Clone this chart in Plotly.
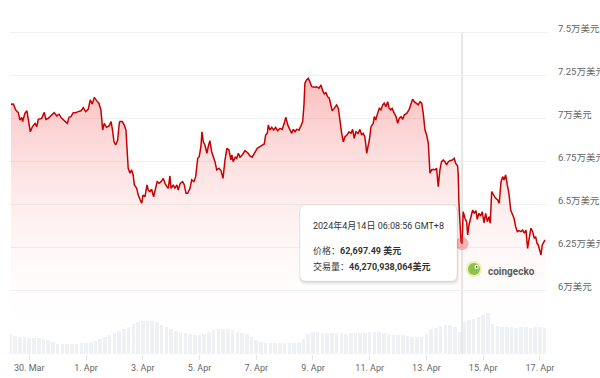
import pandas as pd
import plotly.graph_objects as go

# ---------------- data ----------------
base_time = pd.Timestamp("2024-03-30 00:00")   # local time (GMT+8)

price_hours = [
    -15.5, -13.5, -11.5, -9.3, -7.9, -6.4, -5.6, -3.7, -2.0, -0.9,
    0.9, 2.6, 4.9, 6.3, 7.6, 10.5, 12.7, 14.1, 16.1, 18.9,
    21.1, 23.2, 25.2, 27.4, 30.2, 32.2, 33.6, 35.3, 37.2, 39.2,
    41.4, 43.8, 45.7, 47.7, 49.9, 51.6, 53.3, 55.0, 57.0, 58.9,
    60.6, 62.1, 63.4, 65.4, 67.5, 69.2, 70.2, 71.7, 73.1, 74.8,
    76.1, 76.7, 78.7, 80.4, 81.8, 82.9, 83.7, 85.2, 86.6, 87.9,
    88.9, 90.9, 92.2, 93.9, 95.1, 96.2, 97.9, 99.6, 100.7, 102.1,
    103.5, 105.2, 106.9, 108.2, 109.8, 111.5, 113.4, 114.8, 116.5, 117.6,
    119.0, 119.9, 121.8, 123.2, 124.9, 126.0, 127.7, 129.7, 131.2, 132.6,
    134.0, 136.0, 137.4, 139.3, 140.8, 142.5, 143.8, 145.2, 146.1, 147.2,
    148.6, 150.3, 151.4, 152.8, 154.3, 155.9, 157.1, 158.6, 160.5, 162.2,
    163.9, 165.6, 167.2, 168.9, 170.6, 171.4, 172.5, 174.3, 175.5, 176.9,
    178.3, 180.2, 182.5, 184.8, 186.7, 188.6, 190.9, 192.9, 195.1, 197.2,
    198.8, 200.0, 201.4, 202.2, 203.6, 205.1, 206.8, 208.4, 210.1, 212.1,
    214.0, 215.7, 217.1, 218.7, 220.6, 222.0, 223.4, 224.8, 226.2, 228.2,
    229.8, 231.3, 232.4, 233.2, 234.6, 236.0, 237.4, 239.0, 241.2, 243.2,
    245.1, 246.8, 248.2, 249.6, 251.0, 252.4, 253.8, 255.2, 256.3, 258.0,
    260.0, 261.5, 262.9, 264.3, 265.7, 267.1, 268.8, 270.5, 272.2, 273.6,
    274.9, 276.4, 278.3, 279.7, 281.2, 282.5, 283.9, 285.5, 286.8, 287.7,
    289.1, 291.0, 291.9, 293.1, 294.7, 296.1, 297.5, 299.0, 300.3, 301.7,
    303.2, 304.5, 305.9, 307.0, 308.8, 310.3, 311.7, 313.0, 314.5, 315.9,
    317.2, 319.3, 321.2, 322.9, 324.3, 325.7, 327.1, 329.1, 330.6, 332.0,
    333.3, 334.8, 336.2, 337.6, 339.0, 340.4, 341.8, 343.2, 344.6, 346.0,
    347.4, 348.8, 350.2, 351.7, 353.1, 354.5, 355.9, 357.9, 359.5, 360.7,
    362.4, 362.9, 363.5, 364.3, 365.2, 366.149,
    367.1, 368.6, 370.0, 370.9, 372.0, 373.7, 375.1, 376.5, 377.9, 379.0,
    380.4, 381.9, 383.2, 384.7, 386.1, 387.5, 388.9, 390.0, 391.2, 392.9,
    394.6, 396.3, 397.6, 399.1, 400.5, 401.6, 403.0, 404.4, 405.8, 407.3,
    408.6, 410.1, 411.5, 412.9, 414.3, 416.0, 417.4, 418.8, 420.2, 421.6,
    422.7, 424.4, 425.9, 427.2, 428.4, 429.5, 430.6, 431.8, 432.9, 434.0,
    435.2, 436.3,
]

prices = [
    70800, 70810, 70470, 70310, 69880, 70040, 69790, 70270, 70420, 69980,
    69200, 69490, 69690, 69490, 69920, 69980, 70330, 69920, 69980, 70170,
    70310, 70120, 70220, 69980, 69790, 69690, 70040, 70080, 70310, 70310,
    70370, 70420, 70600, 70370, 70510, 71050, 70810, 71200, 71010, 70860,
    70470, 69300, 69690, 69460, 69540, 69790, 69400, 68620, 68430, 68720,
    69690, 69790, 69790, 69590, 69300, 68140, 67080, 66790, 66980, 66690,
    66110, 65910, 65520, 65230, 65040, 65520, 65420, 66110, 65810, 65720,
    65860, 65420, 66010, 66300, 66200, 66300, 66490, 66200, 66010, 65910,
    66630, 65910, 66110, 65910, 66110, 65810, 66200, 66300, 66110, 65620,
    65620, 65910, 66400, 66300, 66590, 67660, 67750, 68330, 69200, 68620,
    68430, 67950, 68330, 68680, 68040, 67750, 67460, 66980, 67080, 66940,
    66490, 67560, 68240, 68140, 67560, 67850, 67460, 67720, 67660, 67950,
    67720, 67850, 68100, 67980, 67790, 67720, 68040, 68240, 68330, 68430,
    68490, 69010, 69110, 69590, 69300, 69460, 69300, 69460, 69260, 69400,
    69340, 69690, 70040, 69590, 69300, 69110, 69340, 69200, 69340, 69300,
    69540, 69790, 70760, 72020, 72210, 72310, 72110, 71820, 71790, 71820,
    71730, 71920, 71590, 71400, 71470, 71240, 71150, 70660, 70420, 70560,
    70760, 70560, 69690, 69110, 68620, 68910, 69010, 69200, 69110, 69340,
    68820, 69200, 69110, 69340, 69010, 69110, 68910, 67950, 68430, 68720,
    69490, 69690, 70080, 69880, 70270, 70560, 70470, 70760, 70860, 70660,
    70950, 70560, 70470, 70560, 70270, 70080, 69690, 69980, 70080, 69920,
    70170, 70270, 70470, 70760, 71090, 70950, 70860, 70760, 70950, 70860,
    70270, 69300, 69010, 68530, 66790, 66980, 67020, 66980, 67080, 66010,
    66980, 67460, 67560, 67460, 67270, 67460, 67520, 67560, 67660, 67380,
    67210, 66690, 65040, 63390, 62810, 62697.49,
    64550, 64170, 63970, 63200, 63780, 64260, 64650, 64460, 64610, 64110,
    64460, 64300, 64550, 63910, 64460, 63970, 64260, 63880, 65720, 65520,
    65330, 65230, 65040, 66300, 66590, 66400, 66690, 66110, 65620, 64650,
    64460, 64170, 63680, 63390, 63450, 63390, 63490, 63300, 63490, 62420,
    62910, 63590, 63390, 63010, 63100, 62720, 62620, 62230, 62040, 62620,
    62810, 62910,
]

# 24h trading volume (billions of USD), one reading every 4 hours from -16 h
volume_bn = [
    34, 31, 29, 29, 27, 27, 27, 26, 24, 20,
    17, 17, 17, 17, 17, 18, 19, 20, 22, 26,
    29, 32, 36, 39, 43, 46, 51, 54, 56, 56,
    56, 54, 49, 46, 43, 39, 37, 36, 34, 32,
    32, 34, 37, 41, 43, 43, 43, 41, 37, 36,
    34, 29, 24, 20, 19, 19, 19, 19, 19, 19,
    19, 20, 26, 34, 37, 37, 36, 36, 36, 36,
    36, 34, 36, 36, 36, 36, 37, 37, 37, 36,
    34, 32, 32, 32, 31, 29, 29, 29, 34, 43,
    44, 48, 49, 49, 46, 37, 54, 58, 60, 63,
    66, 70, 51, 48, 46, 46, 46, 44, 46, 46,
    44, 46, 46, 44,
]
volume_first_hour = -16
volume_step_hours = 4

x_tick_dates = ["2024-03-30", "2024-04-01", "2024-04-03", "2024-04-05", "2024-04-07",
                "2024-04-09", "2024-04-11", "2024-04-13", "2024-04-15", "2024-04-17"]
x_tick_labels = ["30. Mar", "1. Apr", "3. Apr", "5. Apr", "7. Apr",
                 "9. Apr", "11. Apr", "13. Apr", "15. Apr", "17. Apr"]

y_tick_values = [60000, 62500, 65000, 67500, 70000, 72500, 75000]
y_tick_labels = ["6万美元", "6.25万美元", "6.5万美元", "6.75万美元", "7万美元", "7.25万美元", "7.5万美元"]

hover_time = "2024-04-14 06:08:56"
hover_price = 62697.49
hover_text_time = "2024年4月14日 06:08:56 GMT+8"
hover_text_price = "62,697.49 美元"
hover_text_volume = "46,270,938,064美元"

# ---------------- build ----------------
times = [base_time + pd.Timedelta(hours=h) for h in price_hours]
vol_times = [base_time + pd.Timedelta(hours=volume_first_hour + volume_step_hours * i)
             for i in range(len(volume_bn))]

FONT = "Roboto, 'Noto Sans CJK SC', sans-serif"

W, H = 600, 378
ML, MR, MT, MB = 10, 53, 20, 24
PW, PH = W - ML - MR, H - MT - MB


def px_x(x):
    return (x - ML) / PW


def px_y(y):
    return (H - MB - y) / PH


def rrect(x0, y0, x1, y1, r):
    pts = [
        ("M", [(x0 + r, y0)]), ("L", [(x1 - r, y0)]), ("Q", [(x1, y0), (x1, y0 + r)]),
        ("L", [(x1, y1 - r)]), ("Q", [(x1, y1), (x1 - r, y1)]), ("L", [(x0 + r, y1)]),
        ("Q", [(x0, y1), (x0, y1 - r)]), ("L", [(x0, y0 + r)]), ("Q", [(x0, y0), (x0 + r, y0)]),
    ]
    s = ""
    for cmd, ps in pts:
        s += cmd + " " + " ".join(f"{px_x(a):.5f},{px_y(b):.5f}" for a, b in ps) + " "
    return s + "Z"


fig = go.Figure()

fig.add_trace(go.Bar(
    x=vol_times, y=volume_bn, yaxis="y",
    width=3.0 * 3600 * 1000,
    marker=dict(color="rgba(226,230,237,0.55)", line=dict(width=0)),
    hoverinfo="skip", showlegend=False,
))

fig.add_trace(go.Scatter(
    x=times, y=prices, yaxis="y2", mode="lines",
    line=dict(color="#c80000", width=1.5),
    fill="tozeroy",
    fillgradient=dict(type="vertical", start=57000, stop=72400,
                      colorscale=[[0, "rgba(255,255,255,0)"], [1, "rgba(242,70,70,0.36)"]]),
    hoverinfo="skip", showlegend=False,
))

fig.add_trace(go.Scatter(
    x=[pd.Timestamp(hover_time)], y=[hover_price], yaxis="y2", mode="markers",
    marker=dict(size=13, color="rgba(232,80,80,0.4)"),
    hoverinfo="skip", showlegend=False,
))

shapes = [
    dict(type="line", xref="x", yref="paper", x0=hover_time, x1=hover_time,
         y0=0, y1=px_y(32), line=dict(color="#cfcfcf", width=1), layer="below"),
    # tooltip shadow + box
    dict(type="path", xref="paper", yref="paper", path=rrect(299, 206, 459, 285, 7),
         fillcolor="rgba(0,0,0,0.045)", line=dict(width=0)),
    dict(type="path", xref="paper", yref="paper", path=rrect(300, 206, 458, 283, 6),
         fillcolor="rgba(0,0,0,0.07)", line=dict(width=0)),
    dict(type="path", xref="paper", yref="paper", path=rrect(300, 205, 457, 281, 6),
         fillcolor="#ffffff", line=dict(color="rgba(0,0,0,0.06)", width=1)),
    # coingecko logo
    dict(type="circle", xref="paper", yref="paper", x0=px_x(466), x1=px_x(482),
         y0=px_y(277), y1=px_y(261), fillcolor="#f6ecae", line=dict(width=0)),
    dict(type="circle", xref="paper", yref="paper", x0=px_x(468), x1=px_x(480),
         y0=px_y(275), y1=px_y(263), fillcolor="#8bc34a", line=dict(width=0)),
    dict(type="circle", xref="paper", yref="paper", x0=px_x(474.5), x1=px_x(478.7),
         y0=px_y(269), y1=px_y(264.8), fillcolor="#ffffff", line=dict(width=0)),
    dict(type="circle", xref="paper", yref="paper", x0=px_x(475.9), x1=px_x(477.5),
         y0=px_y(267.7), y1=px_y(266.1), fillcolor="#333333", line=dict(width=0)),
]

annotations = [
    dict(xref="paper", yref="paper", x=px_x(311), y=px_y(225), xanchor="left", yanchor="middle",
         text=hover_text_time, showarrow=False, font=dict(size=9, color="#333333", family=FONT)),
    dict(xref="paper", yref="paper", x=px_x(311), y=px_y(251), xanchor="left", yanchor="middle",
         text="价格：<b>" + hover_text_price + "</b>", showarrow=False,
         font=dict(size=9, color="#333333", family=FONT)),
    dict(xref="paper", yref="paper", x=px_x(311), y=px_y(266), xanchor="left", yanchor="middle",
         text="交易量：<b>" + hover_text_volume + "</b>", showarrow=False,
         font=dict(size=9, color="#333333", family=FONT)),
    dict(xref="paper", yref="paper", x=px_x(486), y=px_y(271), xanchor="left", yanchor="middle",
         text="<b>coingecko</b>", showarrow=False,
         font=dict(size=10, color="#5a5a5a", family=FONT)),
]

fig.update_layout(
    width=W, height=H,
    margin=dict(l=ML, r=MR, t=MT, b=MB, pad=0, autoexpand=False),
    paper_bgcolor="#ffffff", plot_bgcolor="#ffffff",
    font=dict(family=FONT, size=9, color="#666666"),
    hovermode=False, showlegend=False, bargap=0,
    xaxis=dict(
        type="date", automargin=False,
        range=[base_time + pd.Timedelta(hours=-16.3), base_time + pd.Timedelta(hours=438.0)],
        tickvals=x_tick_dates, ticktext=x_tick_labels,
        showgrid=False, zeroline=False, showline=False,
        ticks="outside", ticklen=5, tickcolor="#e6e6e6",
        tickfont=dict(size=9, color="#666666", family=FONT),
    ),
    yaxis=dict(range=[0, 568], visible=False, showgrid=False, zeroline=False, automargin=False),
    yaxis2=dict(
        overlaying="y", side="right", automargin=False,
        range=[56279, 75698],
        tickvals=y_tick_values, ticktext=y_tick_labels,
        showgrid=True, gridcolor="#f0f0f0", gridwidth=1,
        zeroline=False, showline=False,
        ticks="outside", ticklen=8, tickcolor="rgba(0,0,0,0)",
        ticklabelshift=-3,
        tickfont=dict(size=9.5, color="#666666", family=FONT),
    ),
    shapes=shapes, annotations=annotations,
)

fig.write_html("out.html")
